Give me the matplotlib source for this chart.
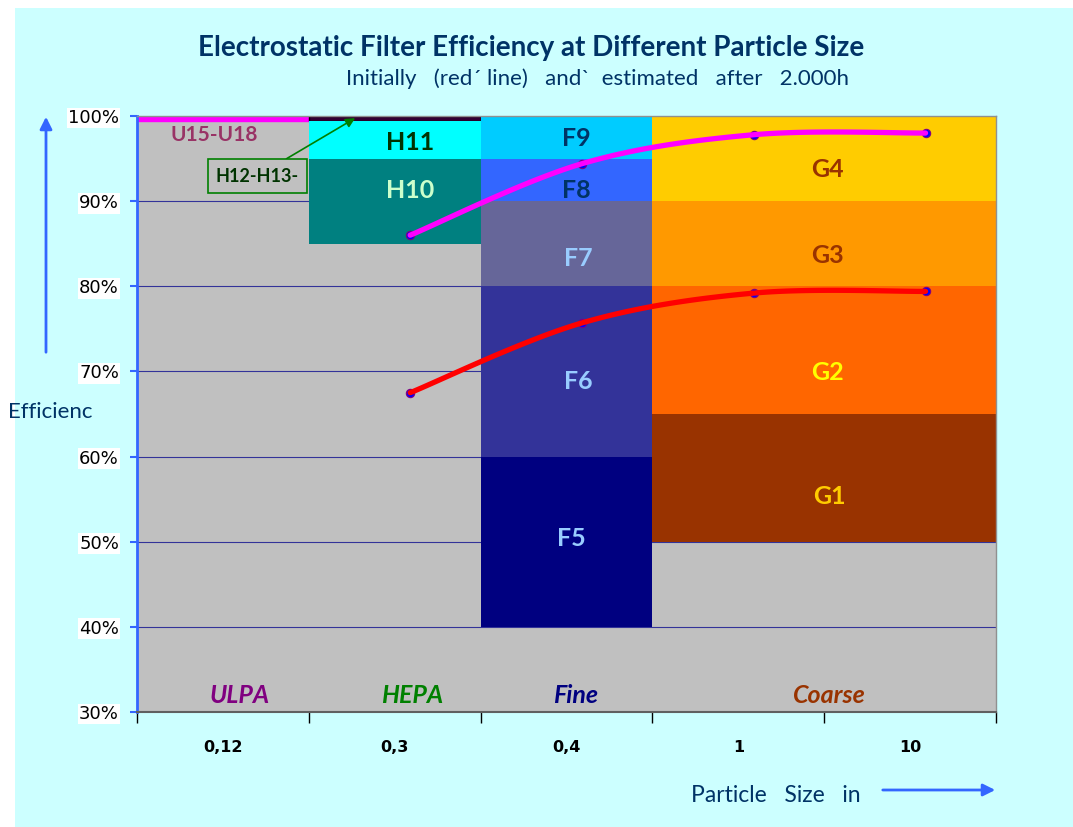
import numpy as np
import matplotlib
matplotlib.use('Agg')
import matplotlib.pyplot as plt
from matplotlib.patches import Rectangle, FancyArrowPatch

# Dữ liệu
sizes = ['0,12', '0,3', '0,4', '1', '10']
groups = ['ULPA', 'HEPA', 'Fine', 'Coarse']
group_first = [0, 1, 2, 3]
group_last = [0, 1, 2, 4]

classes = ['U15-U18', 'H12-H13', 'H11', 'H10', 'F9', 'F8', 'F7', 'F6', 'F5', 'G4', 'G3', 'G2', 'G1']
class_group = [0, 1, 1, 1, 2, 2, 2, 2, 2, 3, 3, 3, 3]
class_low = [99.4, 99.4, 95, 85, 95, 90, 80, 60, 40, 90, 80, 65, 50]
class_high = [100, 100, 99.4, 95, 100, 95, 90, 80, 60, 100, 90, 80, 65]

line_sizes = [1, 2, 3, 4]
initial_eff = [67.5, 75.7, 79.2, 79.4]
after_eff = [86.0, 94.4, 97.8, 98.0]

# Kiểu dáng
class_colors = ['#FF00FF', '#330033', '#00FFFF', '#008080', '#00CCFF', '#3366FF', '#666699',
                '#333399', '#000080', '#FFCC00', '#FF9900', '#FF6600', '#993300']
class_edges = ['#FF00FF', 'black', 'none', 'none', 'none', 'none', 'none',
               'none', 'none', 'none', 'none', 'none', 'none']
label_colors = ['#993366', None, '#003300', '#CCFFCC', '#003366', '#003366', '#99CCFF',
                '#99CCFF', '#99CCFF', '#993300', '#993300', '#FFFF00', '#FFCC00']
label_x = [-0.05, None, 1.09, 1.09, 2.06, 2.06, 2.07, 2.07, 2.03, 3.52, 3.52, 3.52, 3.53]
label_y = [97.8, None, 96.9, 91.3, 97.4, 91.3, 83.3, 68.8, 50.4, 93.7, 83.6, 69.9, 55.3]
group_colors = ['#800080', '#008000', '#000080', '#993300']
group_x = [0.1, 1.1, 2.05, 3.53]
shift = 0.09

navy = '#003366'
arrow_blue = '#3366FF'

plt.rcParams['font.family'] = ['Lato', 'DejaVu Sans']


def smooth(x, y, n=40):
    # Đường cong mượt kiểu Catmull-Rom (giống "smoothed line" của Excel)
    p = np.column_stack([x, y]).astype(float)
    p = np.vstack([p[0], p, p[-1]])
    out = []
    for i in range(1, len(p) - 2):
        p0, p1, p2, p3 = p[i - 1], p[i], p[i + 1], p[i + 2]
        b1 = p1 + (p2 - p0) / 6
        b2 = p2 - (p3 - p1) / 6
        t = np.linspace(0, 1, n)[:, None]
        seg = (1 - t) ** 3 * p1 + 3 * (1 - t) ** 2 * t * b1 + 3 * (1 - t) * t ** 2 * b2 + t ** 3 * p2
        out.append(seg)
    out = np.vstack(out)
    return out[:, 0], out[:, 1]


fig = plt.figure(figsize=(10.73, 8.27), dpi=100, facecolor='white')
fig.patches.append(Rectangle((15 / 1073, 0), 1, 1 - 8 / 827, transform=fig.transFigure,
                             facecolor='#CCFFFF', edgecolor='none', zorder=-10))
ax = fig.add_axes([137 / 1073, 1 - 712 / 827, (996 - 137) / 1073, (712 - 116) / 827])
ax.set_facecolor('#C0C0C0')

# Các khối lớp lọc
for i in range(len(classes)):
    g = class_group[i]
    x0 = group_first[g] - 0.5
    w = group_last[g] - group_first[g] + 1
    ax.bar(x0, class_high[i] - class_low[i], bottom=class_low[i], width=w, align='edge',
           color=class_colors[i], edgecolor=class_edges[i], linewidth=1, zorder=2)
    if label_y[i] is not None:
        ax.text(label_x[i], label_y[i], classes[i], color=label_colors[i], fontsize=18 if i else 15,
                fontweight='bold', ha='center', va='center', zorder=5)

for g in range(len(groups)):
    ax.text(group_x[g], 31.9, groups[g], color=group_colors[g], fontsize=18, fontweight='bold',
            fontstyle='italic', ha='center', va='center', zorder=5)

# Đường hiệu suất
lx = np.array(line_sizes) + shift
for vals, col in [(initial_eff, '#FF0000'), (after_eff, '#FF00FF')]:
    ax.plot(lx, vals, 'o', color='#0000FF', markersize=6, markeredgecolor='#800080',
            markeredgewidth=0.8, zorder=6)
    sx, sy = smooth(lx, vals)
    ax.plot(sx, sy, color=col, linewidth=3.8, solid_capstyle='round', zorder=7)

# Chú thích H12-H13
ax.annotate('H12-H13-', xy=(0.77, 99.75), xytext=(0.2, 92.95), color='#003300', fontsize=13,
            fontweight='bold', ha='center', va='center', zorder=8,
            bbox=dict(boxstyle='square,pad=0.45', fc='#C0C0C0', ec='#008000', lw=1.2),
            arrowprops=dict(arrowstyle='-|>', color='#008000', lw=1.2, mutation_scale=14,
                            shrinkA=0, shrinkB=0))

ax.set_xlim(-0.5, 4.5)
ax.set_ylim(30, 100)
ax.set_yticks(np.arange(30, 101, 10))
ax.set_yticklabels([f'{v}%' for v in range(30, 101, 10)], fontsize=13, family='DejaVu Sans')
for lbl in ax.get_yticklabels():
    lbl.set_bbox(dict(fc='white', ec='none', pad=1))
ax.tick_params(axis='y', direction='out', length=5, width=1.5, color=arrow_blue, pad=8)
ax.yaxis.grid(True, color='#333399', linewidth=0.8)
ax.set_axisbelow(True)

ax.set_xticks(np.arange(-0.5, 4.6, 1))
ax.set_xticklabels([])
ax.set_xticks(np.arange(5), minor=True)
ax.set_xticklabels(sizes, minor=True, fontsize=11.5, fontweight='bold', family='DejaVu Sans')
ax.tick_params(axis='x', which='major', direction='out', length=8, width=1, color='black')
ax.tick_params(axis='x', which='minor', length=0, pad=20)

ax.spines['left'].set_color(arrow_blue)
ax.spines['left'].set_linewidth(2)
ax.spines['bottom'].set_color('#606060')
ax.spines['bottom'].set_linewidth(1.5)
for s in ['top', 'right']:
    ax.spines[s].set_color('#909090')
    ax.spines[s].set_linewidth(1)

# Tiêu đề và nhãn
fig.text(531 / 1073, 1 - 48 / 827, 'Electrostatic Filter Efficiency at Different Particle Size',
         fontsize=20, fontweight='bold', color=navy, ha='center', va='center')
fig.text(598 / 1073, 1 - 79 / 827, 'Initially   (red\u00b4 line)   and\u02cb  estimated   after   2.000h',
         fontsize=16, color=navy, ha='center', va='center')
fig.text(8 / 1073, 1 - 412 / 827, 'Efficienc', fontsize=16, color=navy, ha='left', va='center')
fig.text(776 / 1073, 1 - 796 / 827, 'Particle   Size   in', fontsize=16.5, color=navy,
         ha='center', va='center')

fig.patches.append(FancyArrowPatch((46 / 1073, 1 - 355 / 827), (46 / 1073, 1 - 114 / 827),
                                   transform=fig.transFigure, arrowstyle='-|>', color=arrow_blue,
                                   lw=2, mutation_scale=18))
fig.patches.append(FancyArrowPatch((880 / 1073, 1 - 790 / 827), (998 / 1073, 1 - 790 / 827),
                                   transform=fig.transFigure, arrowstyle='-|>', color=arrow_blue,
                                   lw=2, mutation_scale=18))

fig.savefig('out.png', dpi=100, facecolor=fig.get_facecolor())
